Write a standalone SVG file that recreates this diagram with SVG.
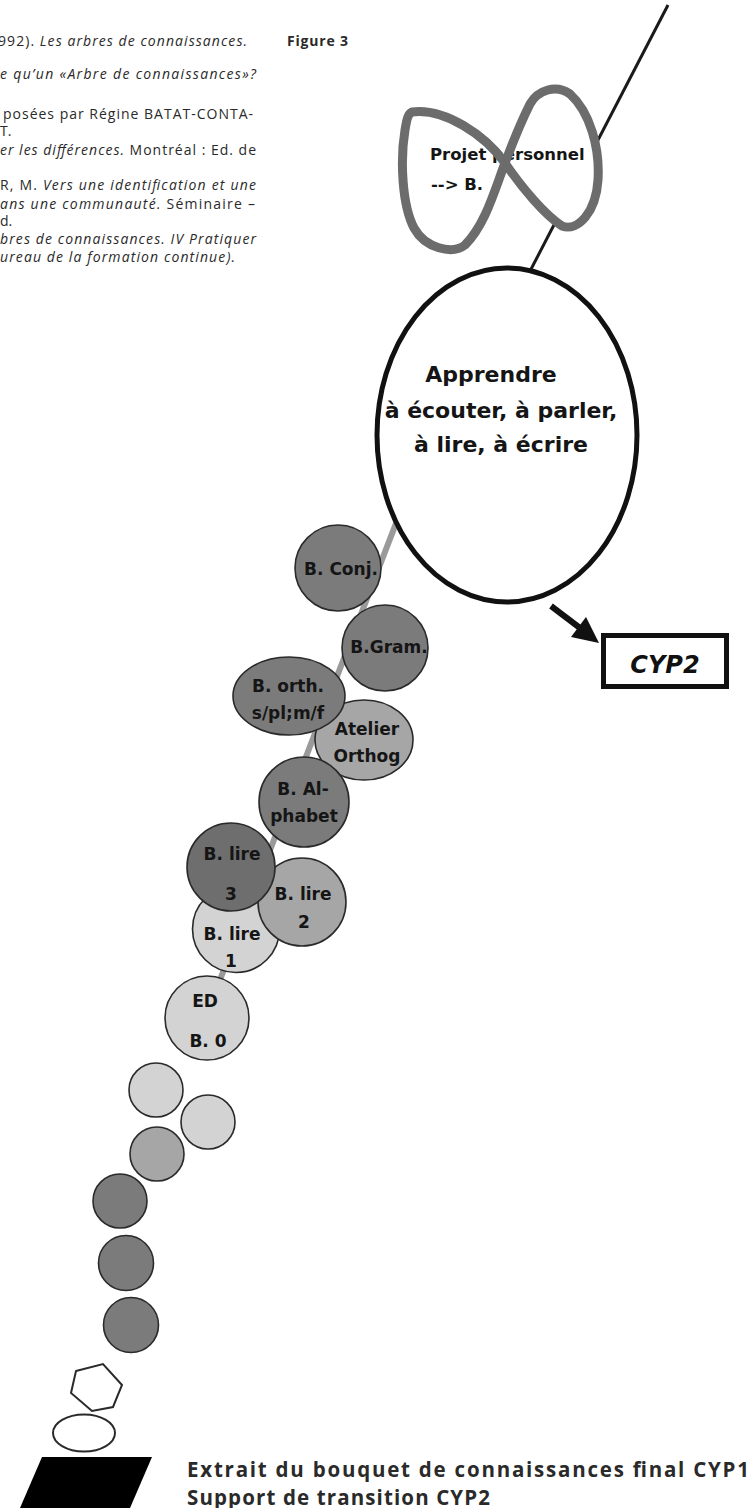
<svg xmlns="http://www.w3.org/2000/svg" width="752" height="1508" viewBox="0 0 752 1508">
<style>
.body{font-family:"Open Sans","Noto Sans",sans-serif;font-size:14px;fill:#2a2a2a}
.it{font-style:italic}
.bold{font-weight:bold}
.hand{font-family:"DejaVu Sans",sans-serif;font-weight:bold;fill:#151515;text-anchor:middle}
.nt{font-size:17px}
.dark{fill:#7b7b7b;stroke:#2a2a2a;stroke-width:1.6}
.darker{fill:#6e6e6e;stroke:#2a2a2a;stroke-width:1.6}
.mid{fill:#a6a6a6;stroke:#2a2a2a;stroke-width:1.6}
.light{fill:#d3d3d3;stroke:#2a2a2a;stroke-width:1.6}
.out{fill:#fff;stroke:#2a2a2a;stroke-width:2}
.cap{font-family:"Open Sans","Noto Sans",sans-serif;font-weight:bold;font-size:20.5px;fill:#2a2a2a}
</style>
<defs>
<path id="eight" d="M412,112 C445,108 485,135 505,163 C522,188 545,215 562,226 C578,232 596,212 598,180 C600,148 590,112 570,94 C556,84 538,90 530,104 C518,128 512,145 505,163 C494,192 485,225 465,245 C452,255 425,248 414,228 C402,205 400,160 405,130 C407,118 408,114 412,112 Z"/>
</defs>
<rect width="752" height="1508" fill="#fff"/>

<g id="page-text" class="body">
<text x="-2" y="46" textLength="249">992). <tspan class="it">Les arbres de connaissances.</tspan></text>
<text x="0" y="79" class="it" textLength="256">e qu’un «Arbre de connaissances»?</text>
<text x="3" y="119" textLength="250">posées par Régine BATAT-CONTA-</text>
<text x="0" y="136">T.</text>
<text x="0" y="155" textLength="256"><tspan class="it">er les différences.</tspan> Montréal : Ed. de</text>
<text x="0" y="190" textLength="256">R, M. <tspan class="it">Vers une identification et une</tspan></text>
<text x="0" y="209" textLength="255"><tspan class="it">ans une communauté.</tspan> Séminaire –</text>
<text x="0" y="226">d.</text>
<text x="0" y="244" class="it" textLength="256">bres de connaissances. IV Pratiquer</text>
<text x="0" y="262" class="it" textLength="235">ureau de la formation continue).</text>
<text x="287" y="46" class="bold" textLength="61">Figure 3</text>
</g>

<g id="connectors">
<line x1="668" y1="5" x2="528" y2="275" stroke="#1a1a1a" stroke-width="3"/>
<line x1="405" y1="500" x2="218" y2="985" stroke="#9a9a9a" stroke-width="6"/>
<line x1="551" y1="606" x2="580" y2="628" stroke="#111" stroke-width="6"/>
<polygon points="599,643 571,637 586,617" fill="#111"/>
</g>

<g id="projet">
<use href="#eight" fill="#fff"/>
<text x="430" y="160" class="hand" style="text-anchor:start;font-size:16.5px">Projet personnel</text>
<text x="431" y="190" class="hand" style="text-anchor:start;font-size:16.5px">--&gt; B.</text>
<use href="#eight" fill="none" stroke="#6c6c6c" stroke-width="9" stroke-linejoin="round"/>
</g>

<g id="apprendre">
<ellipse cx="507" cy="435" rx="130" ry="167" fill="#fff" stroke="#111" stroke-width="5"/>
<text class="hand" style="font-size:22px"><tspan x="491" y="382">Apprendre</tspan><tspan x="501" y="418">à écouter, à parler,</tspan><tspan x="501" y="452">à lire, à écrire</tspan></text>
</g>

<g id="cyp2">
<rect x="603.5" y="635.5" width="123" height="51" fill="#fff" stroke="#111" stroke-width="5"/>
<text x="665" y="673" style="font-family:'DejaVu Sans',sans-serif;font-style:italic;font-weight:bold;font-size:24px;fill:#111;text-anchor:middle">CYP2</text>
</g>

<g id="b-conj">
<circle cx="338" cy="568" r="43" class="dark"/>
<text x="341" y="575" class="hand nt">B. Conj.</text>
</g>
<g id="b-gram">
<circle cx="385" cy="648" r="43" class="dark"/>
<text x="389" y="653" class="hand nt">B.Gram.</text>
</g>
<g id="atelier-orthog">
<ellipse cx="364" cy="740" rx="49" ry="40" class="mid"/>
<text class="hand nt"><tspan x="367" y="735">Atelier</tspan><tspan x="367" y="762">Orthog</tspan></text>
</g>
<g id="b-orth">
<ellipse cx="289" cy="696" rx="56" ry="39" class="dark"/>
<text class="hand nt"><tspan x="288" y="692">B. orth.</tspan><tspan x="288" y="719">s/pl;m/f</tspan></text>
</g>
<g id="b-alphabet">
<circle cx="304" cy="802" r="45" class="dark"/>
<text class="hand nt"><tspan x="303" y="795">B. Al-</tspan><tspan x="304" y="822">phabet</tspan></text>
</g>
<g id="b-lire-1">
<circle cx="236" cy="929" r="43.5" class="light"/>
<text class="hand nt"><tspan x="232" y="940">B. lire</tspan><tspan x="231" y="967">1</tspan></text>
</g>
<g id="b-lire-2">
<circle cx="302" cy="902" r="44" class="mid"/>
<text class="hand nt"><tspan x="303" y="900">B. lire</tspan><tspan x="304" y="928">2</tspan></text>
</g>
<g id="b-lire-3">
<circle cx="231" cy="867" r="44" class="darker"/>
<text class="hand nt"><tspan x="232" y="860">B. lire</tspan><tspan x="231" y="900">3</tspan></text>
</g>
<g id="ed-b0">
<circle cx="207" cy="1018" r="42" class="light"/>
<text class="hand nt"><tspan x="205" y="1007">ED</tspan><tspan x="208" y="1047">B. 0</tspan></text>
</g>
<g id="c1"><circle cx="156" cy="1090" r="27" class="light"/></g>
<g id="c2"><circle cx="208" cy="1122" r="27" class="light"/></g>
<g id="c3"><circle cx="157" cy="1154" r="27" class="mid"/></g>
<g id="c4"><circle cx="120" cy="1201" r="27" class="dark"/></g>
<g id="c5"><circle cx="126" cy="1263" r="27.5" class="dark"/></g>
<g id="c6"><circle cx="131" cy="1325" r="27.5" class="dark"/></g>
<g id="hexagon"><polygon points="76,1371 103,1364 122,1385 113,1407 92,1411 71,1393" class="out"/></g>
<g id="small-ellipse"><ellipse cx="84" cy="1433" rx="31" ry="18.5" class="out"/></g>
<g id="block"><polygon points="42,1457 152,1457 130,1508 20,1508" fill="#000"/></g>

<g id="caption" class="cap">
<text x="187" y="1477" textLength="562">Extrait du bouquet de connaissances final CYP1</text>
<text x="187" y="1505" textLength="303">Support de transition CYP2</text>
</g>
</svg>
